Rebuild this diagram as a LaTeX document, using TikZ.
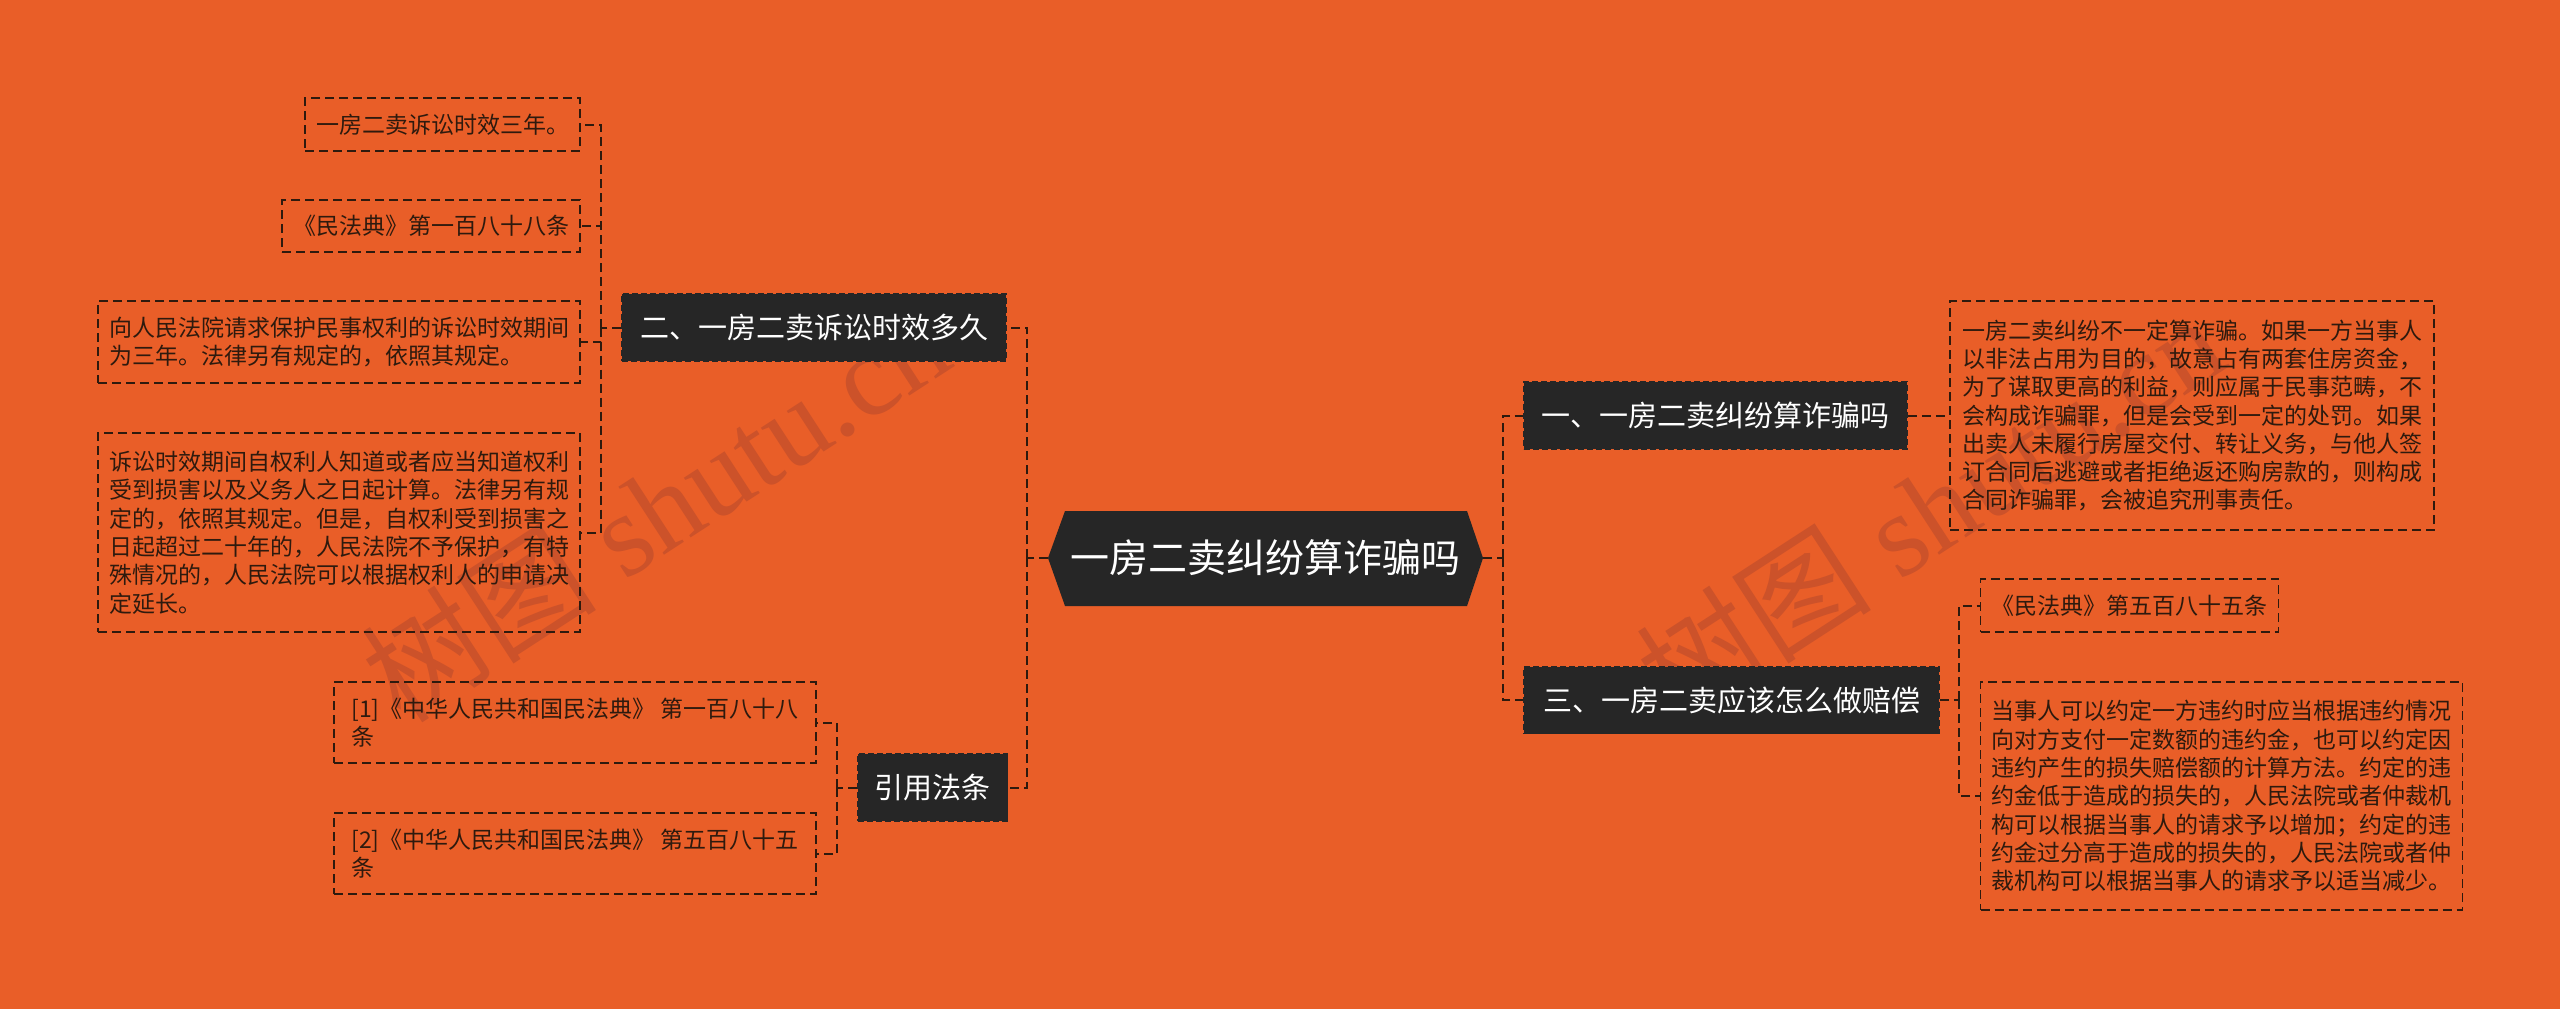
\documentclass[tikz,border=0pt]{standalone}
\usepackage{fontspec}
\newfontfamily\cjk{Noto Sans CJK SC}
\newfontfamily\wmlat{Liberation Serif}
\definecolor{bg}{HTML}{E95E28}
\definecolor{dark}{HTML}{262626}
\definecolor{ink}{HTML}{2E1A0E}
\definecolor{wm}{RGB}{204,82,42}
\begin{document}
\begin{tikzpicture}[x=1pt,y=-1pt,
  conn/.style={draw=ink, line width=2pt, dash pattern=on 9pt off 5pt},
  branch/.style={fill=dark, draw=black!85, dash pattern=on 6pt off 3pt, line width=1.5pt, text=white,
    font=\cjk\fontsize{29}{34}\selectfont, minimum height=67pt, inner xsep=17pt, inner ysep=0pt},
  leaf/.style={draw=ink, line width=1.8pt, dash pattern=on 9pt off 5pt, text=ink,
    font=\cjk\fontsize{23}{28.3}\selectfont, align=left, inner xsep=11pt, inner ysep=0pt},
  wmark/.style={text=wm, rotate=33, inner sep=0pt}
]
\fill[bg] (0,0) rectangle (2560,1009);
\useasboundingbox (0,0) rectangle (2560,1009);

% watermarks
\node[wmark] (wm1) at (655,508) {\cjk\fontsize{118}{118}\selectfont 树图\wmlat\ shutu.cn};
\node[wmark] (wm2) at (1930,508) {\cjk\fontsize{118}{118}\selectfont 树图\wmlat\ shutu.cn};

% center
\coordinate (ctrL) at (1048,558);
\coordinate (ctrR) at (1483,558);
\fill[dark] (ctrL) -- (1065,511) -- (1467,511) -- (ctrR) -- (1467,606) -- (1065,606) -- cycle;
\node[text=white, font=\cjk\fontsize{39}{45}\selectfont] (center) at (1265.5,558) {一房二卖纠纷算诈骗吗};

% branches
\node[branch, minimum width=384pt] (b2) at (814,327.5) {二、一房二卖诉讼时效多久};
\node[branch, minimum width=147pt] (b4) at (932.5,787.5) {引用法条};
\node[branch, minimum width=383pt] (b1) at (1715.5,415.5) {一、一房二卖纠纷算诈骗吗};
\node[branch, minimum width=415pt] (b3) at (1731.5,700) {三、一房二卖应该怎么做赔偿};

% leaves left
\node[leaf, minimum width=275pt, minimum height=53pt] (L1) at (442.5,124.5) {一房二卖诉讼时效三年。};
\node[leaf, minimum width=298pt, minimum height=52pt] (L2) at (431,226) {《民法典》第一百八十八条};
\node[leaf, minimum width=482pt, minimum height=82pt] (L3) at (339,342) {向人民法院请求保护民事权利的诉讼时效期间\\为三年。法律另有规定的，依照其规定。};
\node[leaf, minimum width=482pt, minimum height=199pt] (L4) at (339,532.5) {诉讼时效期间自权利人知道或者应当知道权利\\受到损害以及义务人之日起计算。法律另有规\\定的，依照其规定。但是，自权利受到损害之\\日起超过二十年的，人民法院不予保护，有特\\殊情况的，人民法院可以根据权利人的申请决\\定延长。};
\node[leaf, minimum width=482pt, minimum height=81pt] (R1) at (575,722.5) {[1]《中华人民共和国民法典》 第一百八十八\\条};
\node[leaf, minimum width=482pt, minimum height=81pt] (R2) at (575,853.5) {[2]《中华人民共和国民法典》 第五百八十五\\条};

% leaves right
\node[leaf, minimum width=484pt, minimum height=229pt] (RL1) at (2192,415.5) {一房二卖纠纷不一定算诈骗。如果一方当事人\\以非法占用为目的，故意占有两套住房资金，\\为了谋取更高的利益，则应属于民事范畴，不\\会构成诈骗罪，但是会受到一定的处罚。如果\\出卖人未履行房屋交付、转让义务，与他人签\\订合同后逃避或者拒绝返还购房款的，则构成\\合同诈骗罪，会被追究刑事责任。};
\node[leaf, minimum width=297pt, minimum height=53pt] (RL2) at (2129.5,605.5) {《民法典》第五百八十五条};
\node[leaf, minimum width=481pt, minimum height=228pt] (RL3) at (2221.5,796) {当事人可以约定一方违约时应当根据违约情况\\向对方支付一定数额的违约金，也可以约定因\\违约产生的损失赔偿额的计算方法。约定的违\\约金低于造成的损失的，人民法院或者仲裁机\\构可以根据当事人的请求予以增加；约定的违\\约金过分高于造成的损失的，人民法院或者仲\\裁机构可以根据当事人的请求予以适当减少。};

% junctions
\coordinate (jL) at (1027,558);
\coordinate (jR) at (1503,558);
\coordinate (j2) at (601,327.5);
\coordinate (j4) at (837,787.5);
\coordinate (j3) at (1959,700);

% connectors
\draw[conn] (ctrL) -- (jL);
\draw[conn] (jL) |- (b2.east);
\draw[conn] (jL) |- (b4.east);
\draw[conn] (ctrR) -- (jR);
\draw[conn] (jR) |- (b1.west);
\draw[conn] (jR) |- (b3.west);

\draw[conn] (b2.west) -- (j2);
\draw[conn] (j2) |- (L1.east);
\draw[conn] (j2) |- (L2.east);
\draw[conn] (j2) |- (L3.east);
\draw[conn] (j2) |- (L4.east);

\draw[conn] (b4.west) -- (j4);
\draw[conn] (j4) |- (R1.east);
\draw[conn] (j4) |- (R2.east);

\draw[conn] (b1.east) -- (RL1.west);

\draw[conn] (b3.east) -- (j3);
\draw[conn] (j3) |- (RL2.west);
\draw[conn] (j3) |- (RL3.west);
\end{tikzpicture}
\end{document}
